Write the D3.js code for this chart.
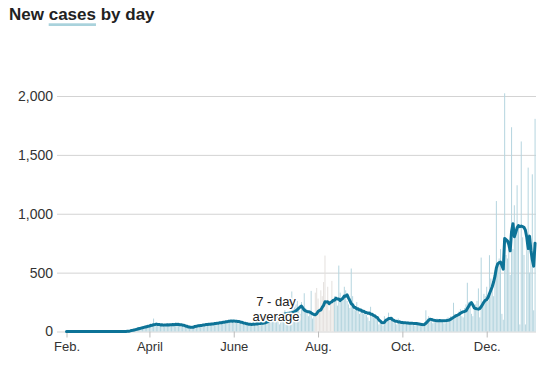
<!DOCTYPE html>
<html><head><meta charset="utf-8">
<script src="https://cdn.jsdelivr.net/npm/d3@7"></script>
<style>body{margin:0;background:#fff}svg{display:block}</style>
</head><body>
<svg id="chart" width="551" height="366"></svg>
<script>
// ---- data (daily new cases, 7-day average) ----
const startDate = "2020-02-01";
const casesFeb = [0,0,0,0,0,0,0,0,0,0,0,0,0,0,0,0,0,0,0,0,0,0,0,0,0,0,0,0,0];
const avgFeb   = [0,0,0,0,0,0,0,0,0,0,0,0,0,0,0,0,0,0,0,0,0,0,0,0,0,0,0,0,0];
const casesMar = [0,0,0,0,0,0,0,0,0,1,0,1,2,1,3,5,8,12,15,20,18,25,30,35,28,40,38,45,42,50,48];
const avgMar   = [0,0,0,0,0,0,0,0,0,0,0,0,1,1,1,2,3,5,8,10,13,16,19,23,26,29,32,35,38,41,44];
const casesApr = [55,70,62,110,58,48,65,72,50,60,55,45,62,58,70,50,48,66,55,60,75,58,52,64,50,45,58,40,35,30];
const avgApr   = [47,51,52,58,60,63,60,60,56,57,54,56,55,57,56,58,57,59,58,61,60,61,57,58,54,53,47,45,39,38];
const casesMay = [28,40,35,55,50,45,60,52,48,58,62,55,65,60,58,70,52,66,72,60,80,75,68,85,70,78,90,82,95,88,100];
const avgMay   = [35,37,37,43,44,48,48,52,52,56,56,59,59,62,61,64,63,67,67,71,71,75,74,78,78,82,82,86,86,90,87];
const casesJun = [90,85,78,95,70,72,65,80,60,55,62,70,58,50,66,72,60,75,68,80,62,70,85,78,95,88,110,120,105,130];
const avgJun   = [90,88,88,84,84,79,78,73,71,66,65,61,62,60,63,62,65,64,67,67,70,69,73,74,81,85,93,97,106,111];
const casesJul = [120,140,95,60,150,160,130,180,150,170,110,140,340,190,210,230,260,180,150,250,190,325,200,160,130,170,345,110,130,330,370];
const avgJul   = [118,124,130,136,140,142,145,148,150,152,155,158,160,163,168,175,185,197,208,216,200,182,175,170,168,165,158,150,145,142,150];
const casesAug = [280,200,350,300,420,645,250,380,180,250,430,260,300,280,220,560,330,250,300,380,350,260,230,200,535,300,220,180,250,200,150];
const avgAug   = [170,178,183,205,222,252,250,252,236,248,252,266,266,283,275,276,262,274,282,302,300,312,286,262,236,228,206,204,192,193,182];
const casesSep = [200,190,150,180,140,120,90,210,160,150,130,110,90,60,80,70,50,130,110,90,160,120,100,80,90,70,60,110,85,75];
const avgSep   = [182,172,172,162,162,155,157,147,147,137,134,122,117,98,90,76,74,78,94,100,110,110,112,98,94,86,87,81,82,77];
const casesOct = [90,70,55,60,85,75,80,65,70,50,60,80,72,55,65,40,55,180,110,130,95,100,70,80,90,110,95,100,85,80,70];
const avgOct   = [76,75,74,72,72,71,70,70,69,69,68,66,64,62,60,58,60,70,82,95,105,103,98,95,93,92,92,93,92,91,92];
const casesNov = [70,110,120,95,130,115,244,150,120,140,170,190,130,120,200,230,414,250,260,150,130,220,230,260,366,120,628,250,320,300];
const avgNov   = [92,93,95,98,105,112,120,128,135,140,146,155,162,168,170,175,195,215,235,245,225,200,195,192,190,195,210,230,250,265];
const casesDec = [380,260,648,450,400,300,520,1108,560,620,700,150,100,2023,650,620,700,480,1735,700,1072,820,1242,900,60,1614,800,650,60,700,1392];
const avgDec   = [270,290,320,350,380,420,470,540,575,585,590,560,530,790,780,770,740,685,850,915,805,840,880,900,890,895,890,885,860,800,705];
const casesJan = [500,750,1335,180,1806];
const avgJan   = [810,690,610,555,750];
// days whose counts were flagged (drawn in grey)
const flaggedDays = ["2020-07-30","2020-07-31","2020-08-01","2020-08-02","2020-08-03","2020-08-04","2020-08-05","2020-08-06","2020-08-07","2020-08-08","2020-08-09","2020-08-10","2020-08-11","2020-08-12"];
const yTicks = [0,500,1000,1500,2000];
const xTickDates = ["2020-02-01","2020-04-01","2020-06-01","2020-08-01","2020-10-01","2020-12-01"];
const xTickLabels = ["Feb.","April","June","Aug.","Oct.","Dec."];
const titleText = ["New ","cases"," by day"];
const annotation = ["7 - day","average"];

// ---- build ----
const parse = d3.utcParse("%Y-%m-%d");
const fmtDay = d3.utcFormat("%Y-%m-%d");
const cases = [].concat(casesFeb,casesMar,casesApr,casesMay,casesJun,casesJul,casesAug,casesSep,casesOct,casesNov,casesDec,casesJan);
const avgs  = [].concat(avgFeb,avgMar,avgApr,avgMay,avgJun,avgJul,avgAug,avgSep,avgOct,avgNov,avgDec,avgJan);
const start = parse(startDate);
const flagged = new Set(flaggedDays);
const data = cases.map((c,i)=>{
  const date = d3.utcDay.offset(start,i);
  return {date, cases:c, avg:avgs[i], flag: flagged.has(fmtDay(date))};
});

const svg = d3.select("#chart");
const x = d3.scaleUtc().domain([start, data[data.length-1].date]).range([66.5, 66.5 + (data.length-1)*1.3822]);
const y = d3.scaleLinear().domain([0,2000]).range([331.5, 96]);
const gridLeft = 57, gridRight = 536;
const font = "'Liberation Sans', Arial, sans-serif";

// title
const title = svg.append("text").attr("x",9).attr("y",20)
  .attr("font-family",font).attr("font-weight","bold")
  .attr("font-size",17).attr("fill","#222");
title.selectAll("tspan").data(titleText).join("tspan").text(d=>d);
const node = title.node();
const sx = node.getStartPositionOfChar(4).x;
const ex = node.getStartPositionOfChar(8).x + node.getExtentOfChar(8).width;
svg.append("rect").attr("x",sx).attr("y",23.3).attr("width",ex-sx).attr("height",2.7).attr("fill","#a9d2dc");

// y axis + grid
const gy = svg.append("g").attr("transform",`translate(${gridLeft},0)`)
  .call(d3.axisLeft(y).tickValues(yTicks).tickSize(-(gridRight-gridLeft)).tickPadding(4).tickFormat(d3.format(",")));
gy.select(".domain").remove();
gy.selectAll("line").attr("stroke","#d3d3d3");
gy.selectAll("text").attr("font-family",font).attr("font-size",14).attr("fill","#333");

// bars
const bw = 1.0;
svg.append("g").selectAll("rect").data(data.filter(d=>d.cases>0)).join("rect")
  .attr("x",d=>x(d.date)-bw/2).attr("width",bw)
  .attr("y",d=>y(d.cases)).attr("height",d=>y(0)-y(d.cases))
  .attr("fill",d=>d.flag ? "#e4e0de" : "#b5d5df");

// x axis
const gx = svg.append("g").attr("transform",`translate(0,${y(0)})`)
  .call(d3.axisBottom(x).tickValues(xTickDates.map(parse)).tickSize(6).tickPadding(4)
    .tickFormat((d,i)=>xTickLabels[i]));
gx.select(".domain").remove();
gx.selectAll("line").attr("stroke","#bbb");
gx.selectAll("text").attr("font-family",font).attr("font-size",13).attr("fill","#333");

// 7-day average line
svg.append("path").datum(data)
  .attr("d", d3.line().x(d=>x(d.date)).y(d=>y(d.avg)))
  .attr("fill","none").attr("stroke","#0d7397").attr("stroke-width",3)
  .attr("stroke-linejoin","round").attr("stroke-linecap","round");

// annotation
const ann = svg.append("text").attr("text-anchor","middle")
  .attr("font-family",font).attr("font-size",13).attr("fill","#222")
  .attr("stroke","#fff").attr("stroke-width",3).attr("paint-order","stroke").attr("stroke-linejoin","round");
ann.selectAll("tspan").data(annotation).join("tspan")
  .attr("x",276).attr("y",(d,i)=>305.5+i*15).text(d=>d);
</script>
</body></html>
